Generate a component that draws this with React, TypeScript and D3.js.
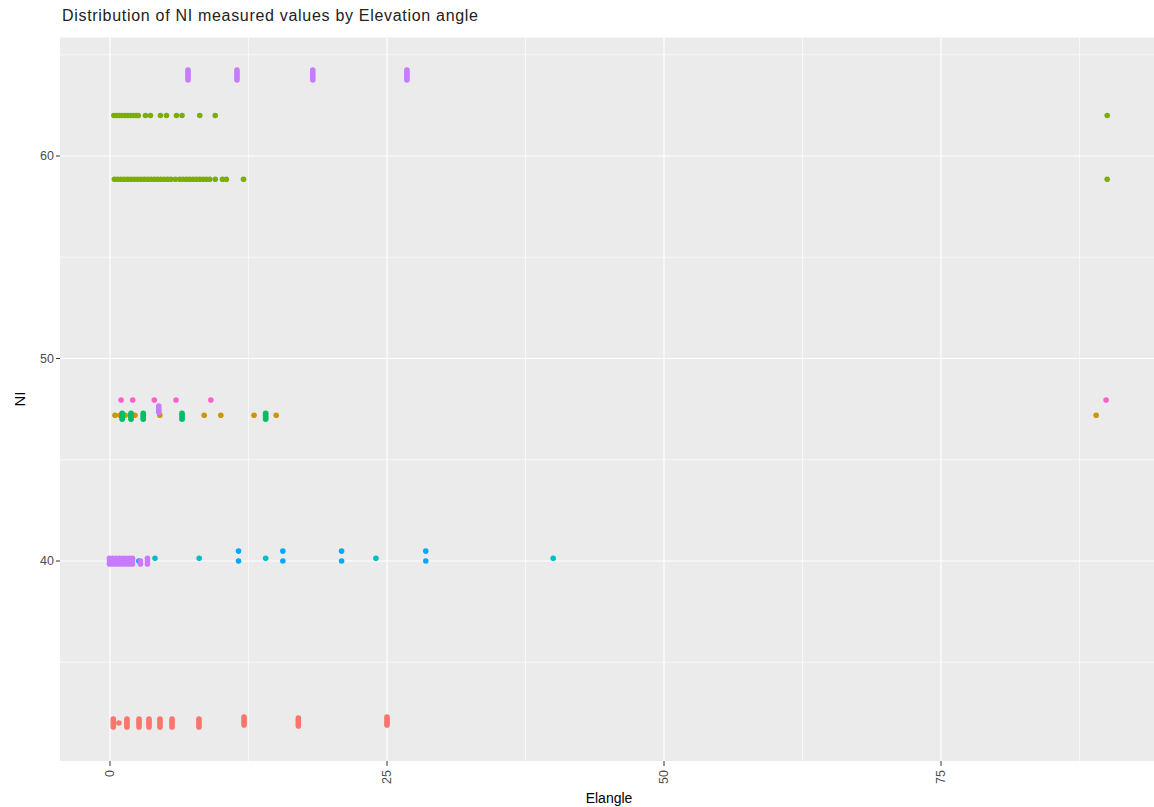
import React from "react";
import * as d3 from "d3";

type Pt = [number, number];

// ---- data (Elangle, NI) per group ----
const seriesColors = ["#F8766D", "#CD9600", "#7CAE00", "#00BE67", "#00BFC4", "#00A9FF", "#C77CFF", "#FF61CC"];

const redPts: Pt[] = [
  [0.3, 31.8], [0.3, 31.9], [0.3, 32.0], [0.3, 32.1], [0.3, 32.2], [0.8, 32.0],
  [1.53, 31.8], [1.53, 31.9], [1.53, 32.0], [1.53, 32.1], [1.53, 32.2],
  [2.62, 31.8], [2.62, 31.9], [2.62, 32.0], [2.62, 32.1], [2.62, 32.2],
  [3.52, 31.8], [3.52, 31.9], [3.52, 32.0], [3.52, 32.1], [3.52, 32.2],
  [4.51, 31.8], [4.51, 31.9], [4.51, 32.0], [4.51, 32.1], [4.51, 32.2],
  [5.6, 31.8], [5.6, 31.9], [5.6, 32.0], [5.6, 32.1], [5.6, 32.2],
  [8.03, 31.8], [8.03, 31.9], [8.03, 32.0], [8.03, 32.1], [8.03, 32.2],
  [12.1, 31.9], [12.1, 32.0], [12.1, 32.1], [12.1, 32.2], [12.1, 32.3],
  [17.0, 31.85], [17.0, 31.95], [17.0, 32.05], [17.0, 32.15], [17.0, 32.25],
  [25.0, 31.9], [25.0, 32.0], [25.0, 32.1], [25.0, 32.2], [25.0, 32.3],
];

const goldPts: Pt[] = [
  [0.45, 47.2], [0.9, 47.2], [1.35, 47.2], [1.8, 47.2], [2.25, 47.2],
  [4.5, 47.2], [8.5, 47.2], [10.0, 47.2], [13.0, 47.2], [15.0, 47.2], [89.0, 47.2],
];

const greenPts: Pt[] = [
  [0.35, 62.0], [0.6, 62.0], [0.85, 62.0], [1.1, 62.0], [1.35, 62.0], [1.6, 62.0],
  [1.85, 62.0], [2.1, 62.0], [2.35, 62.0], [2.55, 62.0],
  [3.2, 62.0], [3.65, 62.0], [4.55, 62.0], [5.1, 62.0], [6.0, 62.0], [6.5, 62.0],
  [8.1, 62.0], [9.5, 62.0], [90.0, 62.0],
  [0.4, 58.85], [0.7, 58.85], [1.0, 58.85], [1.3, 58.85], [1.6, 58.85], [1.9, 58.85],
  [2.2, 58.85], [2.5, 58.85], [2.8, 58.85], [3.1, 58.85], [3.4, 58.85], [3.7, 58.85],
  [4.0, 58.85], [4.3, 58.85], [4.6, 58.85], [4.9, 58.85], [5.2, 58.85], [5.5, 58.85],
  [5.9, 58.85], [6.3, 58.85], [6.6, 58.85], [6.9, 58.85], [7.2, 58.85], [7.5, 58.85],
  [7.8, 58.85], [8.1, 58.85], [8.4, 58.85], [8.7, 58.85], [9.0, 58.85],
  [9.5, 58.85], [10.15, 58.85], [10.5, 58.85], [12.05, 58.85], [90.0, 58.85],
];

const tealGreenPts: Pt[] = [
  [1.1, 47.0], [1.1, 47.1], [1.1, 47.2], [1.1, 47.3],
  [1.9, 47.0], [1.9, 47.1], [1.9, 47.2], [1.9, 47.3],
  [3.0, 47.0], [3.0, 47.1], [3.0, 47.2], [3.0, 47.3],
  [6.5, 47.0], [6.5, 47.1], [6.5, 47.2], [6.5, 47.3],
  [14.05, 47.0], [14.05, 47.1], [14.05, 47.2], [14.05, 47.3],
];

const tealPts: Pt[] = [
  [4.06, 40.13], [8.05, 40.13], [14.05, 40.13], [24.0, 40.13], [40.0, 40.13],
];

const bluePts: Pt[] = [
  [2.6, 40.0],
  [11.6, 40.0], [11.6, 40.49], [15.6, 40.0], [15.6, 40.49],
  [20.9, 40.0], [20.9, 40.49], [28.5, 40.0], [28.5, 40.49],
];

const purplePts: Pt[] = [
  [7.04, 63.75], [7.04, 63.85], [7.04, 63.95], [7.04, 64.05], [7.04, 64.15], [7.04, 64.25],
  [11.46, 63.75], [11.46, 63.85], [11.46, 63.95], [11.46, 64.05], [11.46, 64.15], [11.46, 64.25],
  [18.3, 63.75], [18.3, 63.85], [18.3, 63.95], [18.3, 64.05], [18.3, 64.15], [18.3, 64.25],
  [26.8, 63.75], [26.8, 63.85], [26.8, 63.95], [26.8, 64.05], [26.8, 64.15], [26.8, 64.25],
  [4.4, 47.35], [4.4, 47.45], [4.4, 47.55], [4.4, 47.65],
  [-0.05, 39.85], [-0.05, 40.0], [-0.05, 40.13],
  [0.25, 39.85], [0.25, 40.0], [0.25, 40.13],
  [0.55, 39.85], [0.55, 40.0], [0.55, 40.13],
  [0.85, 39.85], [0.85, 40.0], [0.85, 40.13],
  [1.15, 39.85], [1.15, 40.0], [1.15, 40.13],
  [1.45, 39.85], [1.45, 40.0], [1.45, 40.13],
  [1.75, 39.85], [1.75, 40.0], [1.75, 40.13],
  [2.03, 39.85], [2.03, 40.0], [2.03, 40.13],
  [2.75, 39.85], [2.75, 40.0],
  [3.38, 39.85], [3.38, 40.0], [3.38, 40.13],
];

const pinkPts: Pt[] = [
  [1.0, 47.95], [2.05, 47.95], [4.0, 47.95], [5.96, 47.95], [9.1, 47.95], [89.9, 47.95],
];

const seriesPts: Pt[][] = [redPts, goldPts, greenPts, tealGreenPts, tealPts, bluePts, purplePts, pinkPts];

const xMajor = [0, 25, 50, 75];
const xMinor = [12.5, 37.5, 62.5, 87.5];
const yMajor = [40, 50, 60];
const yMinor = [35, 45, 55, 65];

const titleText = "Distribution of NI measured values by Elevation angle";
const xTitle = "Elangle";
const yTitle = "NI";

export default function App() {
  const W = 1154, H = 807;
  const panel = { left: 60, right: 1160, top: 37.5, bottom: 761 };
  const x = d3.scaleLinear().domain([0, 50]).range([110, 664]);
  const y = d3.scaleLinear().domain([40, 60]).range([561, 156]);
  const font = "'Liberation Sans', Arial, sans-serif";

  return (
    <div style={{ position: "absolute", left: 0, top: 0 }}>
      <svg width={W} height={H} style={{ display: "block", background: "#fff" }}>
        <defs>
          <clipPath id="pclip">
            <rect x={panel.left} y={panel.top} width={panel.right - panel.left} height={panel.bottom - panel.top} />
          </clipPath>
        </defs>
        <rect x={panel.left} y={panel.top} width={panel.right - panel.left} height={panel.bottom - panel.top} fill="#EBEBEB" />
        <g clipPath="url(#pclip)">
          {xMinor.map((v) => (
            <line key={"xm" + v} x1={x(v)} x2={x(v)} y1={panel.top} y2={panel.bottom} stroke="#fff" strokeWidth={0.6} />
          ))}
          {yMinor.map((v) => (
            <line key={"ym" + v} x1={panel.left} x2={panel.right} y1={y(v)} y2={y(v)} stroke="#fff" strokeWidth={0.6} />
          ))}
          {xMajor.map((v) => (
            <line key={"xM" + v} x1={x(v)} x2={x(v)} y1={panel.top} y2={panel.bottom} stroke="#fff" strokeWidth={1.2} />
          ))}
          {yMajor.map((v) => (
            <line key={"yM" + v} x1={panel.left} x2={panel.right} y1={y(v)} y2={y(v)} stroke="#fff" strokeWidth={1.2} />
          ))}
          {seriesPts.map((pts, si) =>
            pts.map((p, i) => (
              <circle key={si + "-" + i} cx={x(p[0])} cy={y(p[1])} r={2.8} fill={seriesColors[si]} />
            ))
          )}
        </g>
        {/* y axis */}
        {yMajor.map((v) => (
          <g key={"yt" + v}>
            <line x1={panel.left - 4} x2={panel.left} y1={y(v)} y2={y(v)} stroke="#333" strokeWidth={1} />
            <text x={panel.left - 6} y={y(v)} dy="0.35em" textAnchor="end" fontSize={12.5} fill="#4D4D4D" fontFamily={font}>
              {v}
            </text>
          </g>
        ))}
        {/* x axis */}
        {xMajor.map((v) => (
          <g key={"xt" + v}>
            <line x1={x(v)} x2={x(v)} y1={panel.bottom} y2={panel.bottom + 5} stroke="#333" strokeWidth={1} />
            <text
              transform={`translate(${x(v)},${panel.bottom + 9}) rotate(-90)`}
              dy="0.35em"
              textAnchor="end"
              fontSize={12.5}
              fill="#4D4D4D"
              fontFamily={font}
            >
              {v}
            </text>
          </g>
        ))}
        <text x={609} y={803} textAnchor="middle" fontSize={14} fill="#000" fontFamily={font}>
          {xTitle}
        </text>
        <text transform={`translate(25,399) rotate(-90)`} textAnchor="middle" fontSize={15} fill="#000" fontFamily={font}>
          {yTitle}
        </text>
        <text x={62} y={21} fontSize={16} fill="#222" fontFamily={font} textLength={416} lengthAdjust="spacing">
          {titleText}
        </text>
      </svg>
    </div>
  );
}
